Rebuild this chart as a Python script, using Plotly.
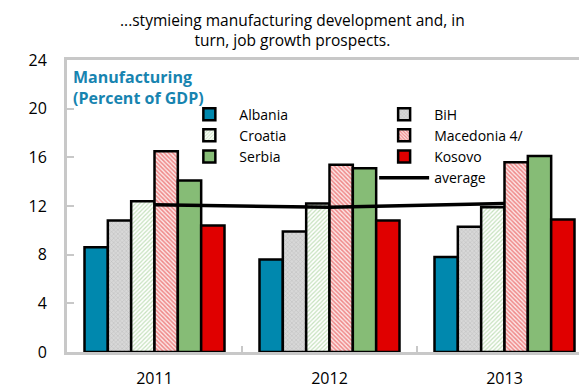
import plotly.graph_objects as go

years = ["2011", "2012", "2013"]
albania = [8.6, 7.6, 7.8]
bih = [10.8, 9.9, 10.3]
croatia = [12.4, 12.2, 11.9]
macedonia = [16.5, 15.4, 15.6]
serbia = [14.1, 15.1, 16.1]
kosovo = [10.4, 10.8, 10.9]
average = [12.1, 11.9, 12.2]

series = [
    ("Albania", albania, dict(color="#0088ae"), "legend"),
    ("BiH", bih, dict(color="#d0d0d0", pattern=dict(shape="x", fgcolor="#a0a0a0", bgcolor="#d8d8d8", size=3, solidity=0.3)), "legend2"),
    ("Croatia", croatia, dict(color="#ffffff", pattern=dict(shape="/", fgcolor="#8cc47a", bgcolor="#ffffff", size=3, solidity=0.4)), "legend"),
    ("Macedonia 4/", macedonia, dict(color="#ffffff", pattern=dict(shape="\\", fgcolor="#e42a2a", bgcolor="#fbe6e6", size=3, solidity=0.5)), "legend2"),
    ("Serbia", serbia, dict(color="#86bc76"), "legend"),
    ("Kosovo", kosovo, dict(color="#e00000"), "legend2"),
]

fig = go.Figure()
for name, vals, mk, lg in series:
    mk = dict(mk)
    mk["line"] = dict(color="black", width=2.5)
    fig.add_trace(go.Bar(x=years, y=vals, name=name, marker=mk, legend=lg))

fig.add_trace(go.Scatter(x=years, y=average, name="average", mode="lines",
                         line=dict(color="black", width=3.5), legend="legend2"))

font = "Open Sans, Noto Sans, sans-serif"
title_text = "...stymieing manufacturing development and, in<br>turn, job growth prospects."
fig.update_layout(
    width=587, height=389,
    margin=dict(l=59, r=0, t=52, b=45),
    paper_bgcolor="white", plot_bgcolor="white",
    barmode="group", bargap=0.2, bargroupgap=0,
    font=dict(family=font, size=15, color="black"),
    legend=dict(x=0.214, y=0.868, xanchor="left", yanchor="top", bgcolor="rgba(0,0,0,0)",
                font=dict(size=14), tracegroupgap=0, itemwidth=50),
    legend2=dict(x=0.585, y=0.868, xanchor="left", yanchor="top", bgcolor="rgba(0,0,0,0)",
                 font=dict(size=14), tracegroupgap=0, itemwidth=50),
    showlegend=True,
    annotations=[
        dict(text="<b>Manufacturing<br>(Percent of GDP)</b>", xref="paper", yref="paper",
             x=0.008, y=0.985, xanchor="left", yanchor="top", showarrow=False, align="left",
             font=dict(size=16, color="#1784b0", family=font)),
        dict(text=title_text, xref="paper", yref="paper", x=0.43, y=1.104, xanchor="center",
             yanchor="middle", align="center", showarrow=False, font=dict(size=15.5, family=font)),
    ],
)
fig.update_yaxes(range=[0, 24], dtick=4, showgrid=False, zeroline=False,
                 showline=True, linecolor="#c8c8c8", linewidth=3, mirror=True,
                 ticks="inside", ticklen=7, tickcolor="#c8c8c8", tickwidth=2,
                 tickfont=dict(size=16), ticklabelstandoff=14)
fig.update_xaxes(showgrid=False, showline=True, linecolor="#c8c8c8", linewidth=3, mirror=True,
                 ticks="inside", tickson="boundaries", ticklen=6, tickcolor="#c8c8c8", tickwidth=2,
                 tickfont=dict(size=16), ticklabelstandoff=10, range=[-0.5, 2.5])

fig.write_html("out.html")
